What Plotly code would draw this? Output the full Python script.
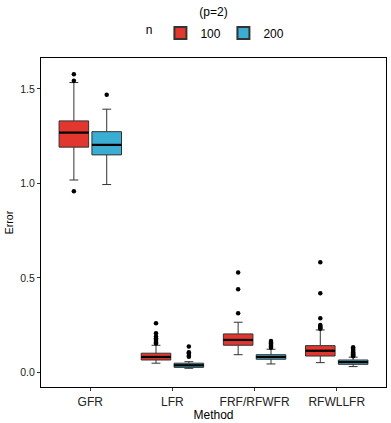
import plotly.graph_objects as go

categories = ["GFR", "LFR", "FRF/RFWFR", "RFWLLFR"]
n_levels = ["100", "200"]

# box statistics per n level (order follows categories)
q1_100 = [1.192, 0.065, 0.143, 0.086]
med_100 = [1.269, 0.081, 0.171, 0.114]
q3_100 = [1.331, 0.101, 0.203, 0.141]
lo_100 = [1.018, 0.048, 0.093, 0.051]
hi_100 = [1.534, 0.143, 0.265, 0.224]

q1_200 = [1.151, 0.026, 0.069, 0.042]
med_200 = [1.204, 0.037, 0.081, 0.054]
q3_200 = [1.274, 0.048, 0.093, 0.065]
lo_200 = [0.994, 0.021, 0.044, 0.030]
hi_200 = [1.393, 0.056, 0.122, 0.080]

out_100 = [
    [1.578, 1.544, 0.959],
    [0.260, 0.207, 0.190, 0.180, 0.172, 0.165, 0.158, 0.152],
    [0.528, 0.440, 0.312],
    [0.583, 0.418, 0.286, 0.250, 0.245, 0.240, 0.235, 0.230],
]
out_200 = [
    [1.469],
    [0.136, 0.106, 0.100, 0.088, 0.082],
    [0.166, 0.158, 0.152, 0.146, 0.140, 0.135, 0.130],
    [0.132, 0.125, 0.118, 0.112, 0.106, 0.100, 0.095, 0.090, 0.085],
]

colors = {"100": "#E1372E", "200": "#3BADD2"}
dodge = 0.2
bw = 0.36

fig = go.Figure()
series = {
    "100": (q1_100, med_100, q3_100, lo_100, hi_100, out_100, -dodge),
    "200": (q1_200, med_200, q3_200, lo_200, hi_200, out_200, dodge),
}
for lvl in n_levels:
    q1, med, q3, lo, hi, outs, off = series[lvl]
    xs = [i + 1 + off for i in range(len(categories))]
    fig.add_trace(go.Box(
        x=xs, q1=q1, median=med, q3=q3, lowerfence=lo, upperfence=hi,
        name=lvl, legendgroup=lvl, fillcolor=colors[lvl],
        line=dict(color="#333333", width=1), width=bw, whiskerwidth=0.3,
        boxpoints=False, hoverinfo="skip",
    ))
    # thick median lines
    mx, my = [], []
    for x, m in zip(xs, med):
        mx += [x - bw / 2, x + bw / 2, None]
        my += [m, m, None]
    fig.add_trace(go.Scatter(x=mx, y=my, mode="lines", line=dict(color="black", width=2.2),
                             showlegend=False, hoverinfo="skip"))
    ox, oy = [], []
    for x, vals in zip(xs, outs):
        ox += [x] * len(vals)
        oy += vals
    fig.add_trace(go.Scatter(x=ox, y=oy, mode="markers", marker=dict(color="black", size=4.5),
                             showlegend=False, hoverinfo="skip"))

fig.update_layout(
    width=391, height=423,
    margin=dict(l=41, r=5, t=58, b=36, autoexpand=False),
    paper_bgcolor="white", plot_bgcolor="white",
    font=dict(family="Liberation Sans, Arial, sans-serif", color="black", size=12),
    title=dict(text="(p=2)", x=0.546, xanchor="center", y=0.972, yanchor="middle",
               font=dict(size=12, color="black")),
    legend=dict(orientation="h", x=0.505, xanchor="center", xref="paper",
                y=0.922, yanchor="middle", yref="container",
                title=dict(text="n", font=dict(size=12), side="left"), font=dict(size=12),
                itemwidth=30, entrywidth=18, entrywidthmode="pixels",
                tracegroupgap=0, itemsizing="constant"),
    showlegend=True,
)
fig.update_xaxes(
    range=[0.4, 4.6], tickmode="array", tickvals=[1, 2, 3, 4], ticktext=categories,
    showline=True, linecolor="black", linewidth=1.2, mirror=True, automargin=False,
    ticks="outside", ticklen=3, tickcolor="#333333", showgrid=False, zeroline=False,
    tickfont=dict(size=12, color="#222222"),
    title=dict(text="Method", font=dict(size=12), standoff=0),
)
fig.update_yaxes(
    range=[-0.078, 1.664], tickvals=[0.0, 0.5, 1.0, 1.5], ticktext=["0.0", "0.5", "1.0", "1.5"],
    showline=True, linecolor="black", linewidth=1.2, mirror=True, automargin=False,
    ticks="outside", ticklen=3, tickcolor="#333333", showgrid=False, zeroline=False,
    tickfont=dict(size=10.5, color="#222222"),
    title=dict(text="Error", font=dict(size=10.5), standoff=4),
)
fig.write_html("out.html", config={"displayModeBar": False},
               post_script="document.body.style.margin='0px';")
